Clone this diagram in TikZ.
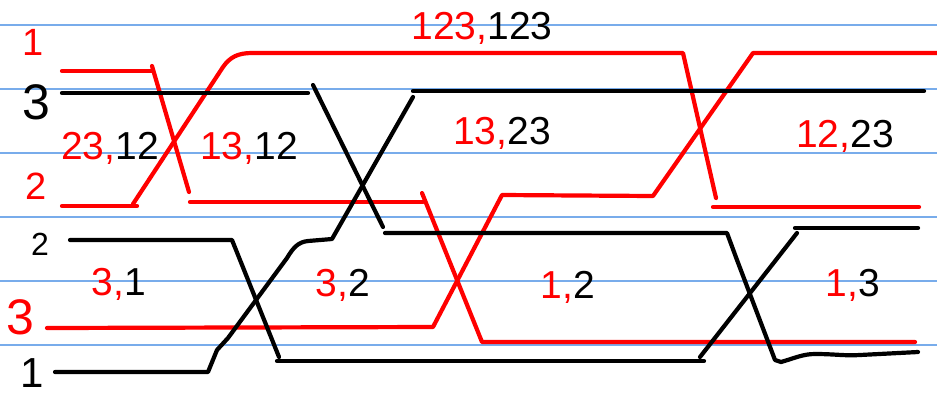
\documentclass[tikz,border=0pt]{standalone}
\usepackage{fontspec}
\setmainfont{Liberation Sans}
\definecolor{rule}{RGB}{120,172,235}
\definecolor{ink}{RGB}{255,0,0}
\begin{document}
\begin{tikzpicture}[x=1pt,y=-1pt,
  rl/.style={rule,line width=1.3pt},
  redw/.style={ink,line width=4.2pt,line cap=round,line join=round},
  blkw/.style={black,line width=4.2pt,line cap=round,line join=round},
  lbl/.style={font=\fontsize{38}{38}\selectfont,inner sep=0pt,anchor=center},
  slbl/.style={font=\fontsize{39}{39}\selectfont,inner sep=0pt,anchor=center}]
\fill[white] (0,0) rectangle (937,400);
\useasboundingbox (0,0) rectangle (937,400);
% ruled lines
\foreach \yy in {25,89,153,217,281,345} \draw[rl] (0,\yy) -- (937,\yy);
% red strands
\draw[redw] (62,71) -- (152,71);
\draw[redw] (152,66) -- (189,192);
\draw[redw] (190,202) -- (423,202);
\draw[redw] (422,193) -- (482,342) -- (915,342);
\draw[redw] (62,206) -- (137,206);
\draw[redw] (133,204) -- (223,67) .. controls (230,57) and (238,53) .. (252,53) -- (683,53) -- (716,198);
\draw[redw] (713,207) -- (919,207);
\draw[redw] (47,328) -- (433,327) -- (502,195) -- (653,196) -- (753,53) -- (940,53);
% black strands
\draw[blkw] (62,93) -- (308,93);
\draw[blkw] (313,85) -- (383,227);
\draw[blkw] (385,233) -- (727,233) -- (737,260) -- (775,360) -- (781,362)
  .. controls (795,358) and (803,354) .. (815,354) .. controls (835,354) and (845,356) .. (860,355) -- (918,352);
\draw[blkw] (70,240) -- (232,240) -- (279,357);
\draw[blkw] (277,361) -- (704,361);
\draw[blkw] (700,357) -- (797,233);
\draw[blkw] (795,228) -- (918,228);
\draw[blkw] (55,372) -- (208,372) -- (217,350) -- (228,338) -- (287,258)
  .. controls (293,248) and (298,242) .. (308,241) -- (332,239) -- (413,97);
\draw[blkw] (413,91) -- (924,91);
% left labels
\node[lbl,ink] (l1) at (33,42) {1};
\node[lbl,font=\fontsize{50}{50}\selectfont] (l3) at (36,102) {3};
\node[lbl,ink] (l2) at (36,186) {2};
\node[lbl,font=\fontsize{32}{32}\selectfont] (m2) at (40,244) {2};
\node[lbl,ink,font=\fontsize{50}{50}\selectfont] (m3) at (20,317) {3};
\node[lbl,font=\fontsize{42}{42}\selectfont] (m1) at (32,373) {1};
% region labels
\node[slbl] (t1) at (110,148) {\textcolor{ink}{23,}12};
\node[slbl] (t2) at (249,148) {\textcolor{ink}{13,}12};
\node[slbl] (t3) at (482,28) {\textcolor{ink}{123,}123};
\node[slbl] (t4) at (502,133) {\textcolor{ink}{13,}23};
\node[slbl] (t5) at (845,136) {\textcolor{ink}{12,}23};
\node[slbl] (t6) at (119,284) {\textcolor{ink}{3,}1};
\node[slbl] (t7) at (343,285) {\textcolor{ink}{3,}2};
\node[slbl] (t8) at (568,287) {\textcolor{ink}{1,}2};
\node[slbl] (t9) at (853,285) {\textcolor{ink}{1,}3};
\end{tikzpicture}
\end{document}
